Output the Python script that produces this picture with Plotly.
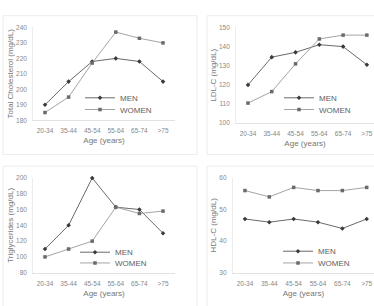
import plotly.graph_objects as go

ages = ["20-34", "35-44", "45-54", "55-64", "65-74", ">75"]
tc_men = [190, 205, 218, 220, 218, 205]
tc_women = [185, 195, 217, 237, 233, 230]
ldl_men = [120, 134.5, 137, 141, 140, 130.5]
ldl_women = [110.5, 116.5, 131, 144, 146, 146]
tg_men = [110, 140, 200, 163, 160, 130]
tg_women = [100, 110, 120, 163, 155, 158]
hdl_men = [47, 46, 47, 46, 44, 47]
hdl_women = [56, 54, 57, 56, 56, 57]

W, H = 374, 306
FONT = "Liberation Sans"
TICK_C = "#888888"
TITLE_C = "#777777"

panels = [
    # (men, women, ytitle, yrange, dtick, xdom px, ydom px(top,bottom), xrange, legend pos px (x, men row y, women row y))
    (tc_men, tc_women, "Total Cholesterol (mg/dL)", [180, 240], 10, (33.2, 174.8), (24, 119), [-0.5, 5.5], (80, 96, 108)),
    (ldl_men, ldl_women, "LDL-C (mg/dL)", [100, 150], 10, (236.1, 374), (24, 122), [-0.5, 5.3], (279, 96, 108)),
    (tg_men, tg_women, "Triglycerides (mg/dL)", [80, 200], 20, (33.2, 174.8), (178, 275), [-0.5, 5.5], (75, 254, 265)),
    (hdl_men, hdl_women, "HDL-C (mg/dL)", [30, 60], 10, (232.8, 374), (178, 275), [-0.5, 5.3], (278, 253, 265)),
]

fig = go.Figure()
layout = dict(
    width=W, height=H, margin=dict(l=0, r=0, t=0, b=0),
    paper_bgcolor="white", plot_bgcolor="white",
    font=dict(family=FONT, size=7, color=TICK_C),
    showlegend=True,
    shapes=[],
)

lg_idx = 0
for i, (men, women, ytitle, yr, dt, xd, yd, xr, lg) in enumerate(panels):
    n = i + 1
    xa = "x" if n == 1 else f"x{n}"
    ya = "y" if n == 1 else f"y{n}"
    series = [
        ("MEN", men, dict(color="#6a6a6a", width=1), dict(symbol="diamond", size=3.5, color="#3a3a3a"), lg[1]),
        ("WOMEN", women, dict(color="#a4a4a4", width=1), dict(symbol="square", size=3.5, color="#6a6a6a"), lg[2]),
    ]
    for name, vals, line, marker, ly in series:
        lg_idx += 1
        lgname = "legend" if lg_idx == 1 else f"legend{lg_idx}"
        fig.add_trace(go.Scatter(
            x=ages, y=vals, name=name, mode="lines+markers",
            line=line, marker=marker, showlegend=True,
            xaxis=xa, yaxis=ya, legend=lgname, cliponaxis=False,
        ))
        layout[lgname] = dict(
            x=lg[0] / W, y=1 - ly / H, xanchor="left", yanchor="middle",
            bgcolor="rgba(0,0,0,0)", borderwidth=0,
            font=dict(size=8, color="#606060", family=FONT),
            itemwidth=30, tracegroupgap=0, visible=True,
        )
    xkey = "xaxis" if n == 1 else f"xaxis{n}"
    ykey = "yaxis" if n == 1 else f"yaxis{n}"
    layout[xkey] = dict(
        domain=[xd[0] / W, min(xd[1] / W, 1)], anchor=ya, range=xr,
        type="category", showgrid=False, zeroline=False,
        showline=True, linecolor="#e2e2e2", linewidth=1,
        ticks="", ticklabelstandoff=4,
        tickfont=dict(size=6.5, color=TICK_C, family=FONT),
        title=dict(text="Age (years)", font=dict(size=8, color=TITLE_C, family=FONT), standoff=4),
    )
    layout[ykey] = dict(
        domain=[1 - yd[1] / H, 1 - yd[0] / H], anchor=xa, range=yr,
        dtick=dt, tick0=yr[0], showgrid=False, zeroline=False,
        showline=True, linecolor="#ececec", linewidth=1,
        ticks="", ticklabelstandoff=4,
        tickfont=dict(size=6.5, color=TICK_C, family=FONT),
        title=dict(text=ytitle, font=dict(size=8, color=TITLE_C, family=FONT), standoff=1),
    )

# panel frames
for (x0, y0, x1, y1) in [(3, 12, 197, 154), (207, 12, 380, 154), (3, 166, 197, 312), (207, 166, 380, 312)]:
    layout["shapes"].append(dict(
        type="rect", xref="paper", yref="paper",
        x0=x0 / W, x1=x1 / W, y0=1 - y1 / H, y1=1 - y0 / H,
        line=dict(color="#ececec", width=1), layer="below",
    ))

fig.update_layout(**layout)
fig.write_html("out.html")
